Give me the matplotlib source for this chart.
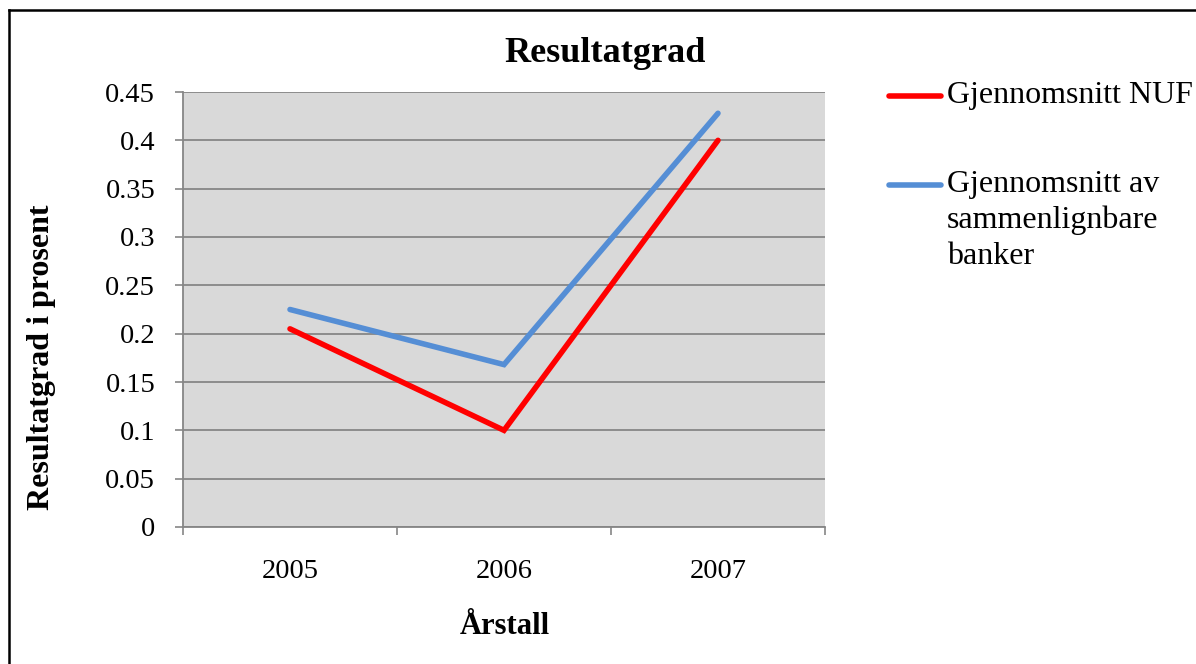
import numpy as np
import matplotlib
matplotlib.use('Agg')
import matplotlib.pyplot as plt
from matplotlib.lines import Line2D

# data
years = ['2005', '2006', '2007']
nuf = [0.205, 0.100, 0.400]
peers = [0.225, 0.168, 0.428]
series_names = ['Gjennomsnitt NUF', 'Gjennomsnitt av\nsammenlignbare\nbanker']
series_colors = ['#ff0000', '#558ed5']
yticks = [0, 0.05, 0.1, 0.15, 0.2, 0.25, 0.3, 0.35, 0.4, 0.45]

plt.rcParams['font.family'] = ['Liberation Serif', 'DejaVu Serif']
grid_col = '#868686'

W, H = 1196, 664
fig = plt.figure(figsize=(W/100, H/100), dpi=100)
ax = fig.add_axes([183/W, 1-527/H, (825-183)/W, (527-92)/H])
ax.set_facecolor('#d9d9d9')

x = np.arange(len(years))
for vals, col in zip([nuf, peers], series_colors):
    ax.plot(x, vals, color=col, lw=4, solid_capstyle='round', solid_joinstyle='miter', zorder=3)

ax.set_xlim(-0.5, len(years)-0.5)
ax.set_ylim(0, 0.45)
ax.set_yticks(yticks)
ax.set_yticklabels(['0' if v == 0 else ('%g' % v) for v in yticks])
ax.yaxis.grid(True, color=grid_col, lw=1.3)
ax.set_axisbelow(True)

# category axis: ticks between categories, labels centered
ax.set_xticks(np.arange(-0.5, len(years), 1.0))
ax.set_xticklabels([])
ax.set_xticks(x, minor=True)
ax.set_xticklabels(years, minor=True)
ax.tick_params(axis='x', which='major', length=6, width=1.2, color=grid_col, direction='out')
ax.tick_params(axis='x', which='minor', length=0, pad=23, labelsize=20.5)
ax.tick_params(axis='y', length=6, width=1.2, color=grid_col, pad=14, labelsize=20.5)

for s in ['top', 'right']:
    ax.spines[s].set_visible(False)
for s in ['left', 'bottom']:
    ax.spines[s].set_color(grid_col)
    ax.spines[s].set_linewidth(1.3)

fig.text(605/W, 1-54/H, 'Resultatgrad', ha='center', va='center', fontsize=26, fontweight='bold')
fig.text(505/W, 1-627/H, 'Årstall', ha='center', va='center', fontsize=22, fontweight='bold')
fig.text(42/W, 1-357/H, 'Resultatgrad i prosent', ha='center', va='center', rotation=90,
         fontsize=23, fontweight='bold')

# legend drawn by hand so the handle sits on the first text line
leg_y = [96, 185]
for name, col, yy in zip(series_names, series_colors, leg_y):
    fig.add_artist(Line2D([889/W, 941/W], [1-yy/H, 1-yy/H], color=col, lw=4,
                          solid_capstyle='round'))
    fig.text(947/W, 1-(yy-15)/H, name, ha='left', va='top', fontsize=23, linespacing=1.3)

# chart border
fig.add_artist(Line2D([9/W, 9/W], [0, 1-10/H], color='black', lw=1.8))
fig.add_artist(Line2D([9/W, 1], [1-10/H, 1-10/H], color='black', lw=1.8))

fig.savefig('out.png', dpi=100, facecolor='white')
